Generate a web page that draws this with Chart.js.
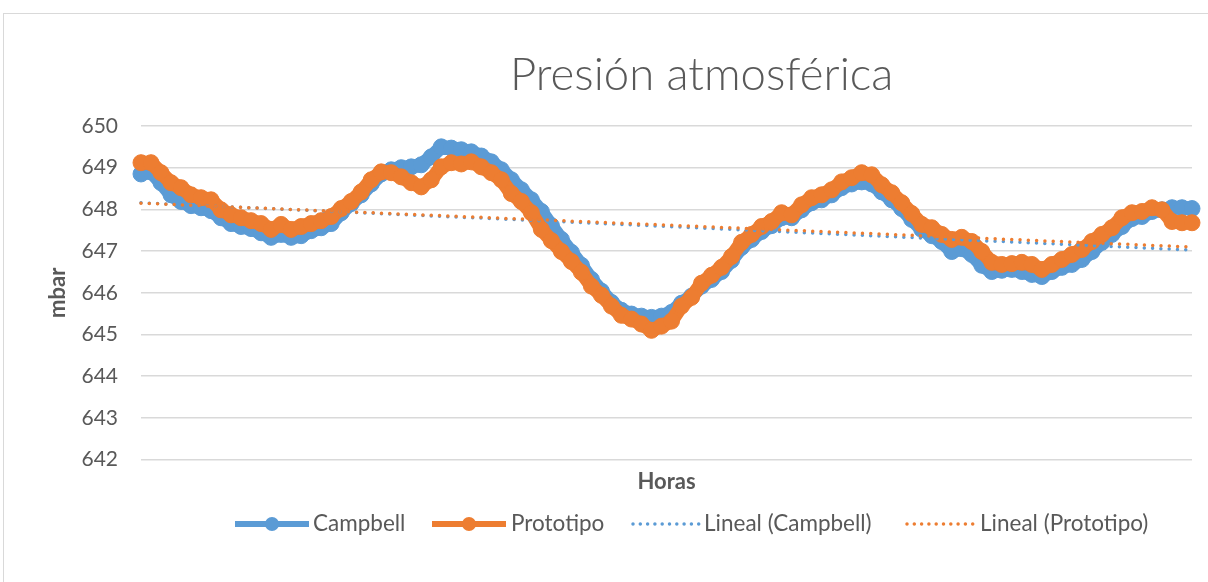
<!DOCTYPE html>
<html>
<head>
<meta charset="utf-8">
<script src="https://cdn.jsdelivr.net/npm/chart.js@4"></script>
<style>
html,body{margin:0;padding:0;background:#fff;}
#wrap{position:relative;width:1208px;height:582px;overflow:hidden;font-family:Lato,"Open Sans",sans-serif;background:#fff;}
#frame{position:absolute;left:3px;top:13px;width:1300px;height:700px;border-left:1.5px solid #d9d9d9;border-top:1.5px solid #d9d9d9;box-sizing:border-box;}
#chart{position:absolute;left:0;top:0;}
#title{position:absolute;left:510px;top:51px;font-size:45.5px;line-height:44px;color:#595959;font-weight:300;white-space:nowrap;}
.sym{position:absolute;top:516px;}
.lbl{position:absolute;top:511px;font-size:22.5px;line-height:24px;color:#595959;white-space:nowrap;}
</style>
</head>
<body>
<div id="wrap">
  <div id="frame"></div>
  <canvas id="chart" width="1208" height="582"></canvas>
  <div id="title">Presión atmosférica</div>
  <div id="legend"></div>
</div>
<script>
// Campbell readings (mbar)
const campbell = [
 648.85,648.90,648.64,648.35,648.19,648.09,648.04,647.97,647.80,647.66,
 647.59,647.54,647.44,647.33,647.40,647.33,647.37,647.49,647.56,647.66,
 647.92,648.14,648.35,648.61,648.85,648.95,649.00,649.02,649.07,649.26,
 649.50,649.47,649.43,649.38,649.28,649.14,648.95,648.71,648.47,648.23,
 647.95,647.61,647.28,646.97,646.66,646.32,646.04,645.77,645.58,645.49,
 645.44,645.41,645.44,645.53,645.75,645.92,646.16,646.32,646.51,646.78,
 647.09,647.28,647.47,647.61,647.80,647.80,647.99,648.16,648.23,648.35,
 648.52,648.61,648.66,648.61,648.42,648.23,648.02,647.76,647.52,647.37,
 647.23,646.99,647.06,646.92,646.66,646.51,646.54,646.56,646.51,646.44,
 646.39,646.51,646.61,646.68,646.80,646.99,647.21,647.40,647.59,647.78,
 647.83,647.95,647.99,648.04,648.04,648.02
];
// Prototipo readings (mbar)
const prototipo = [
 649.12,649.12,648.88,648.64,648.52,648.35,648.28,648.23,647.99,647.87,
 647.80,647.73,647.66,647.52,647.64,647.52,647.59,647.66,647.73,647.83,
 648.02,648.19,648.42,648.71,648.90,648.88,648.78,648.64,648.54,648.71,
 649.02,649.12,649.09,649.14,649.02,648.88,648.71,648.38,648.19,647.92,
 647.52,647.25,646.99,646.75,646.49,646.16,645.94,645.68,645.46,645.37,
 645.25,645.10,645.20,645.32,645.68,645.89,646.23,646.42,646.61,646.87,
 647.21,647.40,647.59,647.71,647.92,647.87,648.11,648.28,648.35,648.47,
 648.66,648.76,648.88,648.83,648.59,648.40,648.16,647.90,647.64,647.56,
 647.40,647.28,647.33,647.23,646.99,646.73,646.68,646.70,646.73,646.68,
 646.56,646.68,646.80,646.92,647.04,647.23,647.40,647.56,647.80,647.92,
 647.95,648.04,647.99,647.71,647.68,647.68
];
// Hour categories (unlabelled on the axis)
const horas = campbell.map((_, i) => String(i + 1));
const yTicks = { min: 642, max: 650, step: 1 };
const seriesNames = ['Campbell', 'Prototipo', 'Lineal (Campbell)', 'Lineal (Prototipo)'];
const colors = { campbell: '#5B9BD5', prototipo: '#ED7D31' };

// Excel-style linear trendline (least squares) of a series
function lineal(vals) {
  const n = vals.length;
  let sx = 0, sy = 0, sxx = 0, sxy = 0;
  vals.forEach((y, i) => { sx += i; sy += y; sxx += i * i; sxy += i * y; });
  const b = (n * sxy - sx * sy) / (n * sxx - sx * sx);
  const a = (sy - b * sx) / n;
  return vals.map((_, i) => a + b * i);
}

const GRAY = '#595959';
Chart.defaults.font.family = 'Lato, "Open Sans", sans-serif';
Chart.defaults.color = GRAY;

const mainLine = (label, data, color, order) => ({
  label, data, order,
  borderColor: color, backgroundColor: color,
  borderWidth: 14, borderJoinStyle: 'round', borderCapStyle: 'round',
  pointRadius: 8, pointHoverRadius: 8,
  pointBackgroundColor: color, pointBorderColor: color, pointBorderWidth: 1,
  tension: 0, clip: false
});
const trendLine = (label, data, color, order) => ({
  label, data, order,
  borderColor: color, borderWidth: 3.5, borderDash: [0, 8.3], borderCapStyle: 'round',
  pointRadius: 0, pointHoverRadius: 0, tension: 0, clip: false
});

new Chart(document.getElementById('chart'), {
  type: 'line',
  data: {
    labels: horas,
    datasets: [
      mainLine(seriesNames[0], campbell, colors.campbell, 3),
      mainLine(seriesNames[1], prototipo, colors.prototipo, 2),
      trendLine(seriesNames[2], lineal(campbell), colors.campbell, 1),
      trendLine(seriesNames[3], lineal(prototipo), colors.prototipo, 0)
    ]
  },
  options: {
    responsive: false, animation: false,
    layout: { padding: { left: 30, right: 16, top: 126, bottom: 87 } },
    plugins: { legend: { display: false }, title: { display: false }, tooltip: { enabled: false } },
    scales: {
      x: {
        ticks: { display: false },
        grid: { display: false, drawTicks: false },
        border: { display: false },
        title: { display: true, text: 'Horas', color: GRAY, font: { size: 22, weight: 'bold' }, padding: { top: 9, bottom: 0 } }
      },
      y: {
        min: yTicks.min, max: yTicks.max,
        ticks: { stepSize: yTicks.step, padding: 23, color: GRAY, font: { size: 21 } },
        grid: { color: '#d9d9d9', lineWidth: 1.5, drawTicks: false },
        border: { display: false },
        title: { display: true, text: 'mbar', color: GRAY, font: { size: 22, weight: 'bold' }, padding: { top: 15, bottom: 0 } },
        afterFit: (s) => { s.width = 111; }
      }
    }
  }
});

// Legend (Excel style)
const legendItems = [
  { text: seriesNames[0], color: colors.campbell, dotted: false, sx: 235, tx: 313 },
  { text: seriesNames[1], color: colors.prototipo, dotted: false, sx: 432, tx: 511 },
  { text: seriesNames[2], color: colors.campbell, dotted: true, sx: 631, tx: 704 },
  { text: seriesNames[3], color: colors.prototipo, dotted: true, sx: 905, tx: 980 }
];
const leg = document.getElementById('legend');
legendItems.forEach(it => {
  const svg = it.dotted
    ? `<svg class="sym" style="left:${it.sx}px" width="70" height="16"><line x1="2" y1="8" x2="68" y2="8" stroke="${it.color}" stroke-width="3.5" stroke-linecap="round" stroke-dasharray="0 7.3"/></svg>`
    : `<svg class="sym" style="left:${it.sx}px" width="74" height="16"><line x1="0" y1="8" x2="74" y2="8" stroke="${it.color}" stroke-width="6"/><circle cx="37" cy="8" r="7" fill="${it.color}"/></svg>`;
  leg.insertAdjacentHTML('beforeend', svg + `<span class="lbl" style="left:${it.tx}px">${it.text}</span>`);
});
</script>
</body>
</html>
